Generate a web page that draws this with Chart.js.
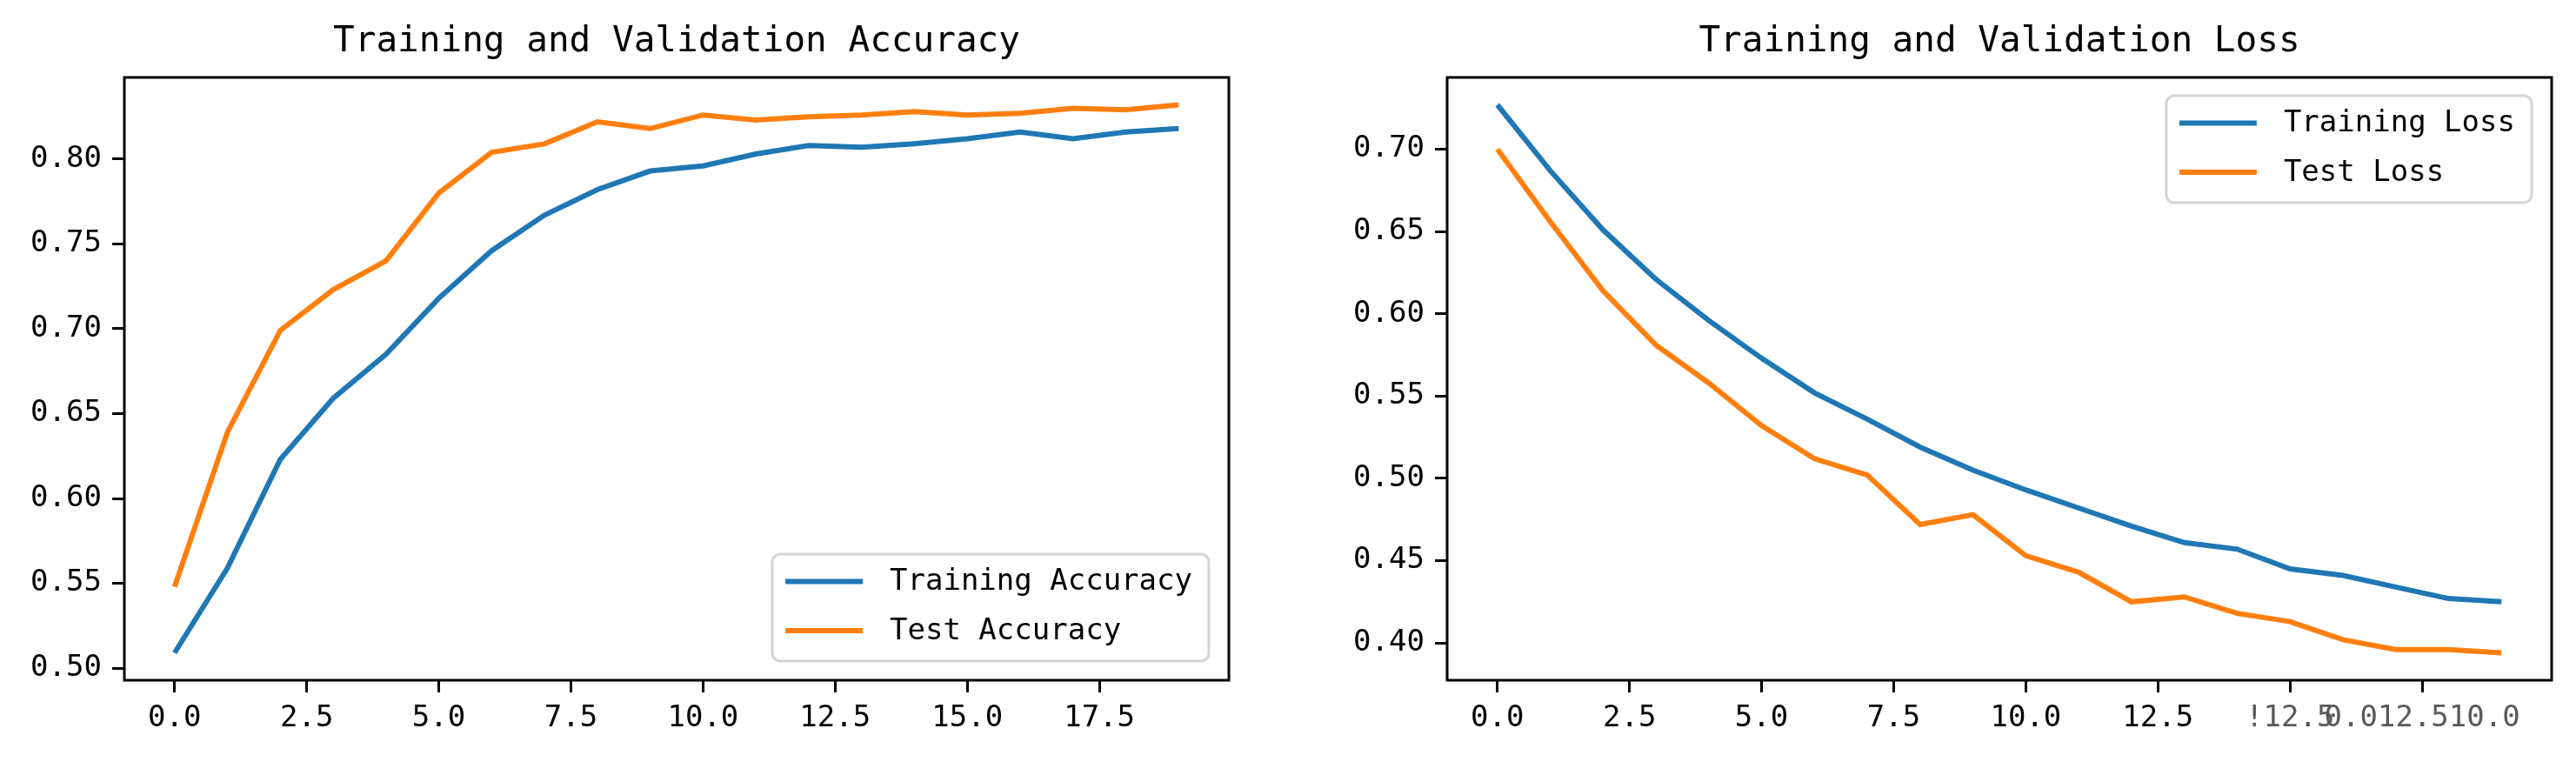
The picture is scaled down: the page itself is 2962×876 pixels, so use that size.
<!DOCTYPE html>
<html>
<head>
<meta charset="utf-8">
<script src="https://cdn.jsdelivr.net/npm/chart.js@4.4.1/dist/chart.umd.min.js"></script>
<style>
  html, body { margin: 0; padding: 0; background: #fff; overflow: hidden; }
  #wrap { position: relative; width: 2962px; height: 876px; overflow: hidden; }
  canvas { position: absolute; top: 0; }
</style>
</head>
<body>
<div id="wrap">
  <canvas id="accChart" width="1556" height="876" style="left:0px"></canvas>
  <canvas id="lossChart" width="1556" height="876" style="left:1521px"></canvas>
</div>
<script>
// ---- data ----
const epochs = [0, 1, 2, 3, 4, 5, 6, 7, 8, 9, 10, 11, 12, 13, 14, 15, 16, 17, 18, 19];

const trainAcc = [0.509, 0.559, 0.623, 0.659, 0.685, 0.718, 0.746, 0.767, 0.782, 0.793,
                  0.796, 0.803, 0.808, 0.807, 0.809, 0.812, 0.816, 0.812, 0.816, 0.818];
const testAcc  = [0.548, 0.639, 0.699, 0.723, 0.740, 0.780, 0.804, 0.809, 0.822, 0.818,
                  0.826, 0.823, 0.825, 0.826, 0.828, 0.826, 0.827, 0.830, 0.829, 0.832];

const trainLoss = [0.727, 0.687, 0.651, 0.621, 0.596, 0.573, 0.552, 0.536, 0.519, 0.505,
                   0.493, 0.482, 0.471, 0.461, 0.457, 0.445, 0.441, 0.434, 0.427, 0.425];
const testLoss  = [0.700, 0.656, 0.614, 0.581, 0.558, 0.532, 0.512, 0.502, 0.472, 0.478,
                   0.453, 0.443, 0.425, 0.428, 0.418, 0.413, 0.402, 0.396, 0.396, 0.394];

const xTicks = [0, 2.5, 5, 7.5, 10, 12.5, 15, 17.5];
const accXLabels  = ["0.0", "2.5", "5.0", "7.5", "10.0", "12.5", "15.0", "17.5"];
const lossXLabels = ["0.0", "2.5", "5.0", "7.5", "10.0", "12.5", "!12.5", "0.012.510.0"];

const accYTicks  = [0.50, 0.55, 0.60, 0.65, 0.70, 0.75, 0.80];
const lossYTicks = [0.40, 0.45, 0.50, 0.55, 0.60, 0.65, 0.70];

const FONT = "'DejaVu Sans Mono', 'Liberation Mono', monospace";
const BLUE = "#1f77b4";
const ORANGE = "#ff7f0e";

Chart.defaults.color = "#000";
Chart.defaults.font.family = FONT;

// matplotlib style 5% margins
function padRange(values, frac) {
  const lo = Math.min(...values), hi = Math.max(...values);
  const m = (hi - lo) * frac;
  return [lo - m, hi + m];
}

// full axes frame, like the four spines
const framePlugin = {
  id: "frame",
  afterDatasetsDraw(chart) {
    const { ctx, chartArea: a } = chart;
    ctx.save();
    ctx.strokeStyle = "#000";
    ctx.lineWidth = 3;
    ctx.strokeRect(a.left, a.top, a.right - a.left, a.bottom - a.top);
    ctx.restore();
  },
};

// legend box drawn inside the plot area
const boxLegend = {
  id: "boxLegend",
  afterDraw(chart, args, opts) {
    const { ctx, chartArea: a } = chart;
    const sets = chart.data.datasets;
    ctx.save();
    ctx.font = "34px " + FONT;
    const textW = Math.max(...sets.map(d => ctx.measureText(d.label).width));
    const w = 135 + textW + 19, h = 123;
    const left = a.right - 23 - w;
    const top = opts.corner === "top" ? a.top + 21 : a.bottom - 22 - h;

    ctx.beginPath();
    ctx.roundRect(left, top, w, h, 9);
    ctx.fillStyle = "rgba(255,255,255,0.8)";
    ctx.fill();
    ctx.lineWidth = 3;
    ctx.strokeStyle = "rgba(204,204,204,0.85)";
    ctx.stroke();

    sets.forEach((d, i) => {
      const y = top + 31.6 + i * 56.4;
      ctx.beginPath();
      ctx.moveTo(left + 15, y);
      ctx.lineTo(left + 104, y);
      ctx.strokeStyle = d.borderColor;
      ctx.lineWidth = 6;
      ctx.stroke();
      ctx.fillStyle = "#000";
      ctx.textBaseline = "middle";
      ctx.textAlign = "left";
      ctx.fillText(d.label, left + 135, y + 1);
    });
    ctx.restore();
  },
};

function makeChart(id, title, series, names, yTicks, xLabels, corner) {
  const yr = padRange(series.flat(), 0.05);
  return new Chart(document.getElementById(id), {
    type: "line",
    data: {
      datasets: series.map((vals, i) => ({
        label: names[i],
        data: epochs.map((e, k) => ({ x: e, y: vals[k] })),
        borderColor: i === 0 ? BLUE : ORANGE,
        backgroundColor: i === 0 ? BLUE : ORANGE,
        borderWidth: 6,
        pointRadius: 0,
        tension: 0,
        fill: false,
      })),
    },
    options: {
      responsive: false,
      devicePixelRatio: 1,
      animation: false,
      layout: { padding: 0 },
      scales: {
        x: {
          type: "linear",
          min: -0.95,
          max: 19.95,
          afterBuildTicks(scale) { scale.ticks = xTicks.map(v => ({ value: v })); },
          afterFit(scale) { scale.height = 94; },
          grid: { drawOnChartArea: false, drawTicks: true, tickLength: 14, tickWidth: 3, tickColor: "#000" },
          border: { display: false },
          ticks: {
            padding: 10,
            maxRotation: 0,
            autoSkip: false,
            font: { size: 34 },
            color: c => (xLabels[xTicks.indexOf(c.tick.value)] !== accXLabels[xTicks.indexOf(c.tick.value)] ? "#5a5a5a" : "#000"),
            callback: v => xLabels[xTicks.indexOf(v)],
          },
        },
        y: {
          min: yr[0],
          max: yr[1],
          afterBuildTicks(scale) { scale.ticks = yTicks.map(v => ({ value: v })); },
          afterFit(scale) { scale.width = 143; },
          grid: { drawOnChartArea: false, drawTicks: true, tickLength: 14, tickWidth: 3, tickColor: "#000" },
          border: { display: false },
          ticks: {
            padding: 12,
            autoSkip: false,
            font: { size: 34 },
            callback: v => v.toFixed(2),
          },
        },
        // empty right-hand spacer so the title centres over the plot area
        spacer: {
          position: "right",
          display: true,
          afterFit(scale) { scale.width = 143; },
          grid: { display: false },
          border: { display: false },
          ticks: { display: false },
        },
      },
      plugins: {
        legend: { display: false },
        tooltip: { enabled: false },
        title: {
          display: true,
          text: title,
          color: "#000",
          font: { size: 41, weight: "normal", lineHeight: 1 },
          padding: { top: 28, bottom: 20 },
        },
        boxLegend: { corner: corner },
      },
    },
    plugins: [framePlugin, boxLegend],
  });
}

makeChart("accChart", "Training and Validation Accuracy", [trainAcc, testAcc],
  ["Training Accuracy", "Test Accuracy"], accYTicks, accXLabels, "bottom");

makeChart("lossChart", "Training and Validation Loss", [trainLoss, testLoss],
  ["Training Loss", "Test Loss"], lossYTicks, lossXLabels, "top");
</script>
</body>
</html>
